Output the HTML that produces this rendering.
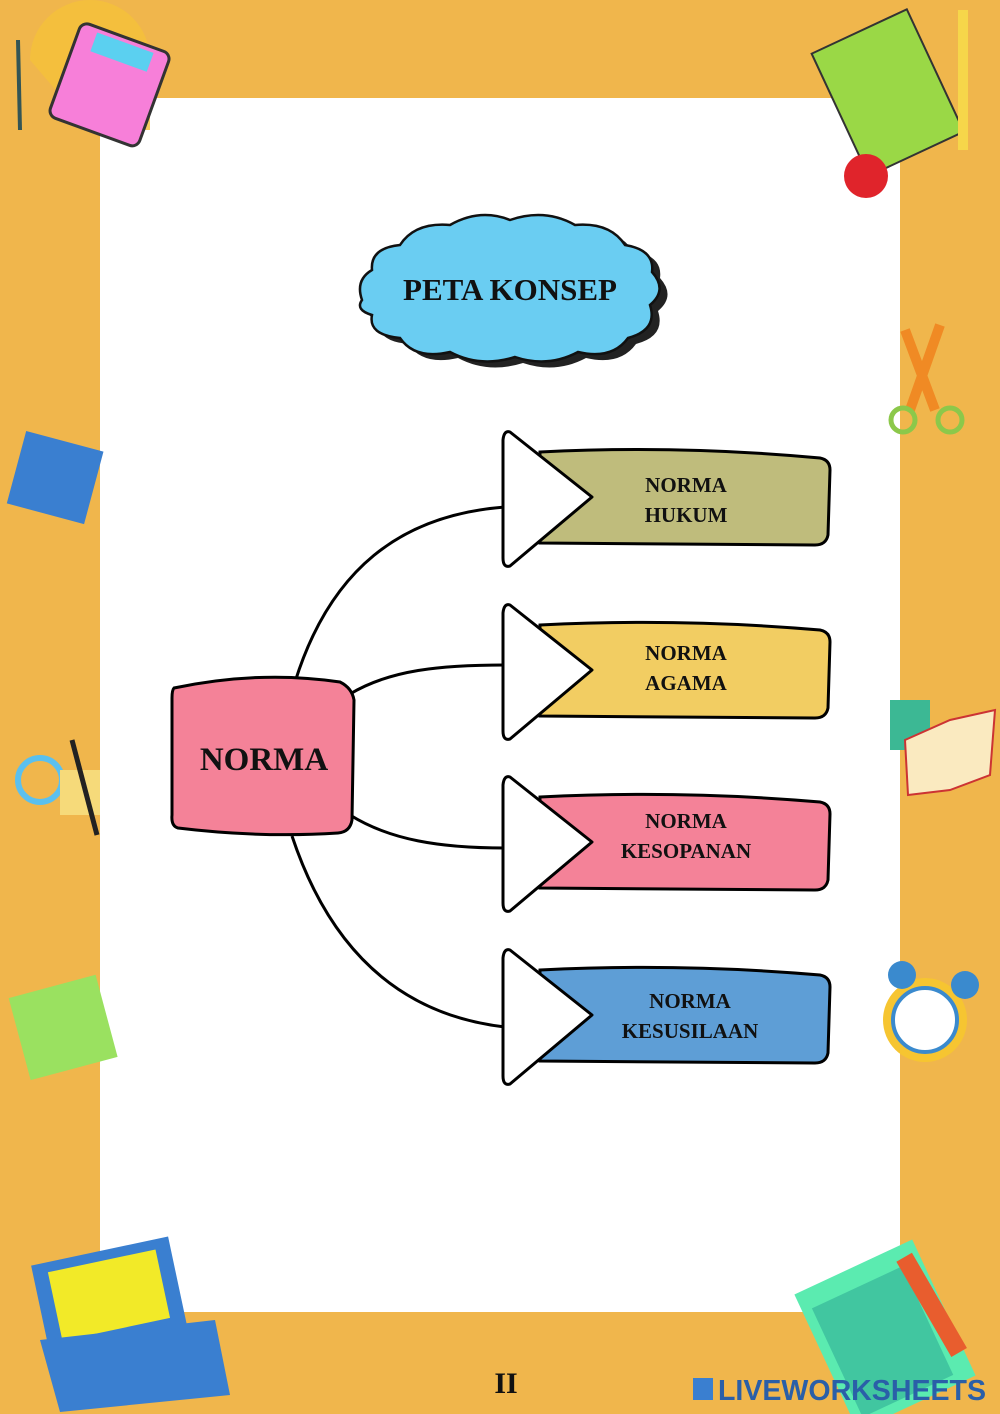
<!DOCTYPE html>
<html><head><meta charset="utf-8"><style>
html,body{margin:0;padding:0;}
body{width:1000px;height:1414px;overflow:hidden;background:#F0B64C;}
svg{display:block}
text{font-family:"Liberation Serif",serif;font-weight:bold;fill:#111;}
</style></head><body>
<svg width="1000" height="1414" viewBox="0 0 1000 1414" xmlns="http://www.w3.org/2000/svg">
<rect width="1000" height="1414" fill="#F0B64C"/>
<rect x="100" y="98" width="800" height="1214" fill="#fff"/>

<!-- decorations -->
<g>
<path d="M30 60 A60 60 0 0 1 150 60 L150 130 L90 130 Z" fill="#F5C23A" opacity=".8"/>
<rect x="62" y="35" width="95" height="100" rx="8" fill="#F77FD9" stroke="#333" stroke-width="3" transform="rotate(20 110 85)"/>
<rect x="80" y="40" width="60" height="20" fill="#5BD0F0" transform="rotate(20 110 85)"/>
<line x1="18" y1="40" x2="20" y2="130" stroke="#355" stroke-width="4"/>
<rect x="835" y="25" width="105" height="135" fill="#9AD846" stroke="#333" stroke-width="2" transform="rotate(-25 888 92)"/>
<circle cx="866" cy="176" r="22" fill="#E0242B"/>
<rect x="958" y="10" width="10" height="140" fill="#F6D64A"/>
<path d="M905 330 L935 410 M940 325 L910 410" stroke="#F08A24" stroke-width="10"/>
<circle cx="903" cy="420" r="12" fill="none" stroke="#8CC84A" stroke-width="5"/>
<circle cx="950" cy="420" r="12" fill="none" stroke="#8CC84A" stroke-width="5"/>
<rect x="15" y="440" width="80" height="75" fill="#3A7FD0" transform="rotate(15 55 478)"/>
<rect x="890" y="700" width="40" height="50" fill="#3CB894"/>
<path d="M905 740 L950 720 L995 710 L990 775 L950 790 L908 795 Z" fill="#FAEAC0" stroke="#C33" stroke-width="2"/>
<circle cx="40" cy="780" r="22" fill="none" stroke="#5BC0EE" stroke-width="6"/>
<rect x="60" y="770" width="40" height="45" fill="#F6DA7A"/>
<line x1="72" y1="740" x2="97" y2="835" stroke="#222" stroke-width="5"/>
<rect x="18" y="985" width="90" height="85" fill="#9AE160" transform="rotate(-15 63 1027)"/>
<circle cx="925" cy="1020" r="42" fill="#F6C531"/>
<circle cx="925" cy="1020" r="32" fill="#fff" stroke="#3A8ACE" stroke-width="4"/>
<circle cx="902" cy="975" r="14" fill="#3A8ACE"/><circle cx="965" cy="985" r="14" fill="#3A8ACE"/>
<rect x="40" y="1250" width="140" height="100" fill="#3A7FD0" transform="rotate(-12 110 1300)"/>
<rect x="55" y="1260" width="110" height="70" fill="#F2EA28" transform="rotate(-12 110 1300)"/>
<path d="M40 1340 L215 1320 L230 1395 L60 1412 Z" fill="#3A7FD0"/>
<rect x="820" y="1260" width="130" height="150" fill="#5BEBB0" transform="rotate(-25 885 1335)"/>
<rect x="830" y="1280" width="100" height="120" fill="#41C6A0" transform="rotate(-25 885 1335)"/>
<rect x="920" y="1250" width="18" height="110" fill="#E85D2E" transform="rotate(-30 930 1300)"/>
</g>

<!-- title cloud -->
<path d="M362 300 Q355 280 372 270 Q370 248 400 245 Q415 222 450 225 Q480 208 510 220 Q545 208 575 225 Q610 222 625 245 Q655 250 652 272 Q668 290 650 305 Q658 330 628 338 Q612 360 578 352 Q548 368 515 357 Q480 368 450 352 Q415 360 400 338 Q368 335 372 315 Q355 310 362 300 Z" fill="#222" transform="translate(8 6)"/>
<path d="M362 300 Q355 280 372 270 Q370 248 400 245 Q415 222 450 225 Q480 208 510 220 Q545 208 575 225 Q610 222 625 245 Q655 250 652 272 Q668 290 650 305 Q658 330 628 338 Q612 360 578 352 Q548 368 515 357 Q480 368 450 352 Q415 360 400 338 Q368 335 372 315 Q355 310 362 300 Z" fill="#6ACDF2" stroke="#111" stroke-width="2.5"/>
<text x="510" y="300" font-size="31" text-anchor="middle">PETA KONSEP</text>

<!-- connectors -->
<g fill="none" stroke="#000" stroke-width="3">
<path d="M295 682 C330 570 400 515 505 507"/>
<path d="M350 694 C390 670 440 665 505 665"/>
<path d="M350 815 C390 840 440 848 505 848"/>
<path d="M292 836 C330 950 400 1015 505 1027"/>
</g>

<!-- center node -->
<path d="M174 688 Q260 670 340 682 Q352 688 354 700 L352 820 Q350 832 338 833 Q260 838 178 828 Q171 826 172 815 L172 698 Q172 690 174 688 Z" fill="#F48298" stroke="#000" stroke-width="3"/>
<text x="264" y="770" font-size="33" text-anchor="middle">NORMA</text>

<!-- branches -->
<g stroke="#000" stroke-width="3">
<path d="M540 452 Q680 445 820 458 Q830 460 830 470 L828 535 Q826 545 815 545 L540 543 Z" fill="#BFBC7C"/>
<path d="M510 432 L592 497 L510 566 Q503 568 503 558 L503 440 Q504 430 510 432 Z" fill="#fff" stroke-linejoin="round"/>
<path d="M540 625 Q680 618 820 630 Q830 632 830 642 L828 708 Q826 718 815 718 L540 716 Z" fill="#F2CD62"/>
<path d="M510 605 L592 670 L510 739 Q503 741 503 731 L503 613 Q504 603 510 605 Z" fill="#fff" stroke-linejoin="round"/>
<path d="M540 797 Q680 790 820 802 Q830 804 830 814 L828 880 Q826 890 815 890 L540 888 Z" fill="#F48298"/>
<path d="M510 777 L592 842 L510 911 Q503 913 503 903 L503 785 Q504 775 510 777 Z" fill="#fff" stroke-linejoin="round"/>
<path d="M540 970 Q680 963 820 975 Q830 977 830 987 L828 1053 Q826 1063 815 1063 L540 1061 Z" fill="#5E9ED6"/>
<path d="M510 950 L592 1015 L510 1084 Q503 1086 503 1076 L503 958 Q504 948 510 950 Z" fill="#fff" stroke-linejoin="round"/>
</g>
<g font-size="21" text-anchor="middle">
<text x="686" y="492">NORMA</text><text x="686" y="522">HUKUM</text>
<text x="686" y="660">NORMA</text><text x="686" y="690">AGAMA</text>
<text x="686" y="828">NORMA</text><text x="686" y="858">KESOPANAN</text>
<text x="690" y="1008">NORMA</text><text x="690" y="1038">KESUSILAAN</text>
</g>

<text x="506" y="1393" font-size="30" text-anchor="middle">II</text>
<rect x="693" y="1378" width="20" height="22" fill="#3A7FD0"/>
<text x="718" y="1400" font-size="29" textLength="268" lengthAdjust="spacingAndGlyphs" style="font-family:'Liberation Sans',sans-serif;fill:#2A5FA8">LIVEWORKSHEETS</text>
</svg>
</body></html>
